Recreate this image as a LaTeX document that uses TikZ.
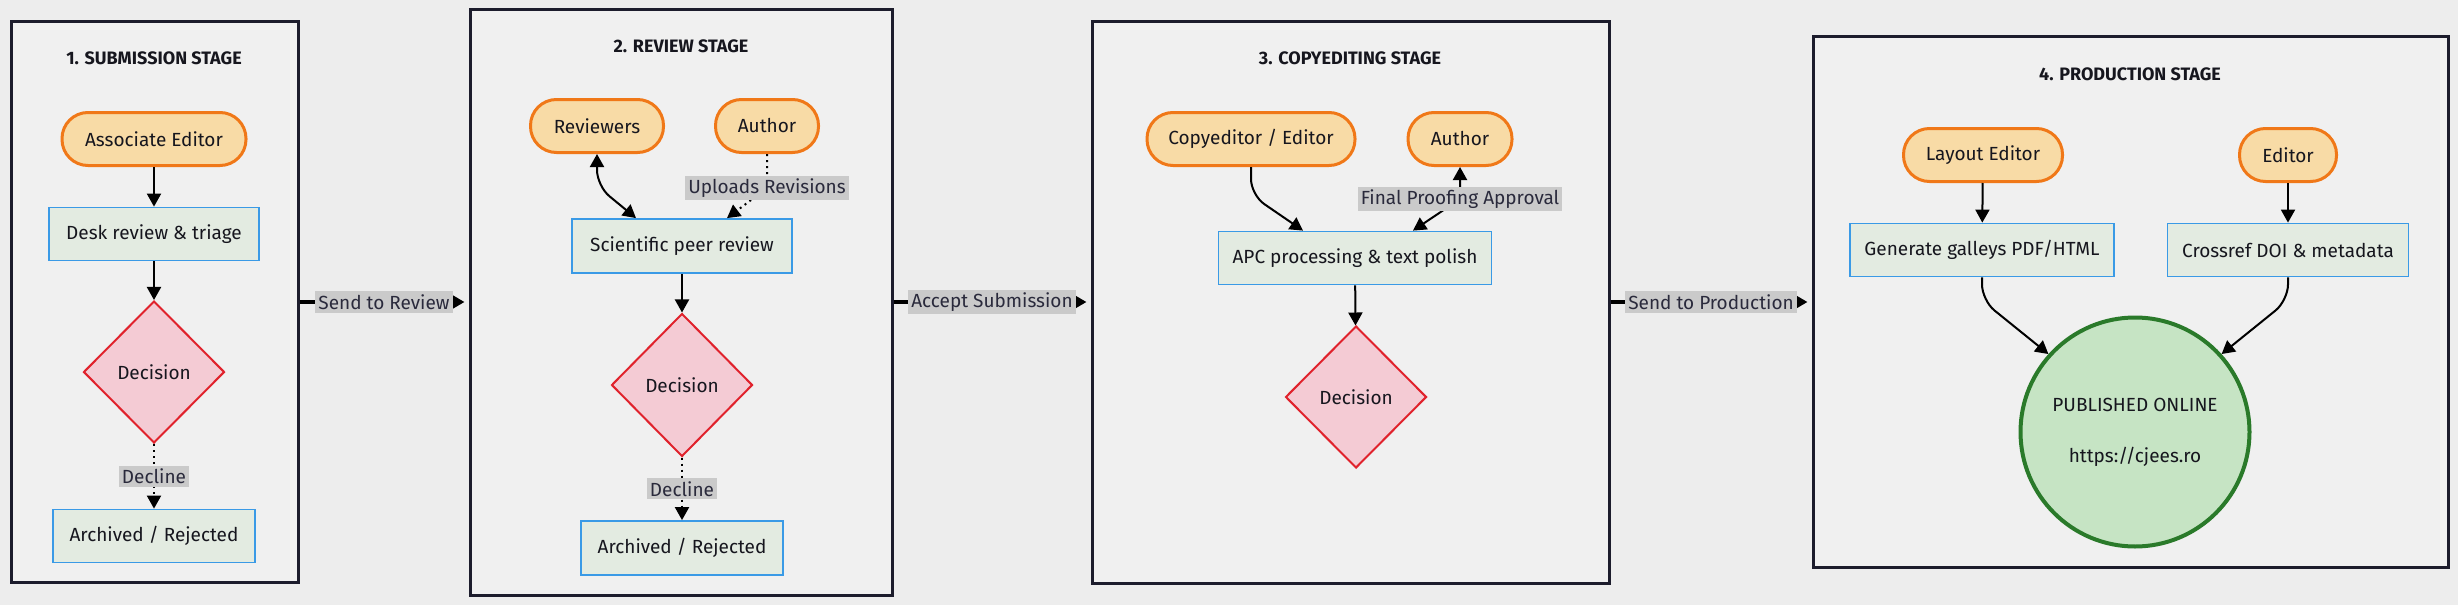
\documentclass[tikz,border=0pt]{standalone}
\usepackage{fontspec}
\setmainfont{Fira Sans}
\usepackage{xcolor}
\usepackage{tikz}
\usetikzlibrary{shapes.geometric,arrows.meta,positioning,calc}

\definecolor{pagebg}{HTML}{EDEDED}
\definecolor{stagebg}{HTML}{F0F0F0}
\definecolor{stageline}{HTML}{1C1C2C}
\definecolor{actorfill}{HTML}{F8DBA6}
\definecolor{actorline}{HTML}{F07818}
\definecolor{procfill}{HTML}{E3EBE1}
\definecolor{procline}{HTML}{3A9AE6}
\definecolor{decfill}{HTML}{F4CBD4}
\definecolor{decborder}{HTML}{E0222C}
\definecolor{pubfill}{HTML}{C6E4C4}
\definecolor{publine}{HTML}{2A7A2A}
\definecolor{labelbg}{HTML}{CACACA}
\definecolor{inktext}{HTML}{16161E}
\definecolor{labeltext}{HTML}{2A2A3C}

\newcommand{\boxfont}{\fontsize{9.5}{11.5}\selectfont}

\tikzset{
  stagebox/.style={draw=stageline, line width=1.5pt, fill=stagebg, inner sep=0pt},
  stagetitle/.style={font=\fontsize{9}{11}\selectfont\bfseries, text=inktext},
  actor/.style={draw=actorline, line width=1.5pt, fill=actorfill, rounded corners=13pt,
    minimum height=26.5pt, inner sep=0pt, font=\boxfont, text=inktext},
  process/.style={draw=procline, line width=0.9pt, fill=procfill, minimum height=26.5pt,
    inner sep=0pt, font=\boxfont, text=inktext},
  decision/.style={diamond, draw=decborder, line width=1pt, fill=decfill,
    minimum width=70.5pt, minimum height=71pt, inner sep=0pt, font=\boxfont, text=inktext},
  published/.style={circle, draw=publine, line width=2pt, fill=pubfill, minimum size=114.5pt,
    inner sep=0pt, align=center, font=\boxfont, text=inktext},
  edgelabel/.style={fill=labelbg, inner sep=1.5pt, font=\boxfont, text=labeltext},
  tip/.style={-{Triangle[length=6.5pt,width=7pt]}},
  bothtips/.style={{Triangle[length=6.5pt,width=7pt]}-{Triangle[length=6.5pt,width=7pt]}},
  flow/.style={line width=1pt, tip},
  handoff/.style={line width=2pt, -{Triangle[length=6pt,width=6.5pt]}, shorten >=2pt},
}

\begin{document}
\begin{tikzpicture}[x=0.5pt, y=-0.5pt]

% Page
\fill[pagebg] (0,0) rectangle (2458,605);
\useasboundingbox (0,0) rectangle (2458,605);

% Stage frames
\node[stagebox, minimum width=143.5pt, minimum height=280.5pt] (stage1) at (154.5,302) {};
\node[stagebox, minimum width=211pt, minimum height=293pt] (stage2) at (681,302) {};
\node[stagebox, minimum width=258.5pt, minimum height=281pt] (stage3) at (1350.5,302) {};
\node[stagebox, minimum width=317.5pt, minimum height=265.5pt] (stage4) at (2130.5,302) {};

% Stage 1: submission
\node[stagetitle] (title1) at (154,58) {1. SUBMISSION STAGE};
\node[actor, minimum width=92pt] (assoc) at (154,139) {Associate Editor};
\node[process, minimum width=105pt] (desk) at (154,234) {Desk review \& triage};
\node[decision] (dec1) at (154,372) {Decision};
\node[process, minimum width=101pt] (arch1) at (154,536) {Archived / Rejected};

\draw[flow] (assoc) -- (desk);
\draw[flow] (desk) -- (dec1);
\draw[flow, dotted] (dec1.south) -- (arch1.north) node[midway, edgelabel] {Decline};

% Stage 2: review
\node[stagetitle] (title2) at (681,46) {2. REVIEW STAGE};
\node[actor, minimum width=66.5pt] (reviewers) at (597,126) {Reviewers};
\node[actor, minimum width=51.5pt] (author2) at (767,126) {Author};
\node[process, minimum width=110pt, minimum height=27pt] (peer) at (682,246) {Scientific peer review};
\node[decision, minimum height=71.5pt] (dec2) at (682,385) {Decision};
\node[process, minimum width=101pt, minimum height=27pt] (arch2) at (682,548) {Archived / Rejected};

\draw[line width=1pt, bothtips, rounded corners=8pt] (reviewers.south) -- ++(0,32) -- ([xshift=-23pt]peer.north);
\draw[flow, dotted] (author2.south) -- ++(0,34) node[edgelabel] {Uploads Revisions} -- ([xshift=22.5pt]peer.north);
\draw[flow] (peer) -- (dec2);
\draw[flow, dotted] (dec2.south) -- (arch2.north) node[midway, edgelabel] {Decline};

% Stage 3: copyediting
\node[stagetitle] (title3) at (1350,58) {3. COPYEDITING STAGE};
\node[actor, minimum width=104pt] (copyed) at (1251,139) {Copyeditor / Editor};
\node[actor, minimum width=52pt] (author3) at (1460,139) {Author};
\node[process, minimum width=136.5pt] (apc) at (1355,258) {APC processing \& text polish};
\node[decision] (dec3) at (1356,397) {Decision};

\draw[flow, rounded corners=8pt] (copyed.south) -- ++(0,28) -- ([xshift=-26pt]apc.north);
\draw[line width=1pt, bothtips] (author3.south) -- ++(0,32) node[edgelabel] {Final Proofing Approval} -- ([xshift=29pt]apc.north);
\draw[flow] (apc) -- (dec3);

% Stage 4: production
\node[stagetitle] (title4) at (2130,74) {4. PRODUCTION STAGE};
\node[actor, minimum width=79.5pt] (layout) at (1983,155) {Layout Editor};
\node[actor, minimum width=48.5pt] (editor) at (2288,155) {Editor};
\node[process, minimum width=132pt] (galleys) at (1982,250) {Generate galleys PDF/HTML};
\node[process, minimum width=120.5pt] (crossref) at (2288,250) {Crossref DOI \& metadata};
\node[published] (pub) at (2135,432) {PUBLISHED ONLINE\\[14pt]https://cjees.ro};

\draw[flow] (layout) -- (galleys);
\draw[flow] (editor) -- (crossref);
\draw[flow, rounded corners=8pt] (galleys.south) -- ++(0,23) -- (pub.138);
\draw[flow, rounded corners=8pt] (crossref.south) -- ++(0,23) -- (pub.42);

% Hand-offs between stages
\draw[handoff] (stage1.east) -- (stage2.west) node[midway, edgelabel] {Send to Review};
\draw[handoff] (stage2.east) -- (stage3.west) node[midway, edgelabel] {Accept Submission};
\draw[handoff] (stage3.east) -- (stage4.west) node[midway, edgelabel] {Send to Production};

\end{tikzpicture}
\end{document}
